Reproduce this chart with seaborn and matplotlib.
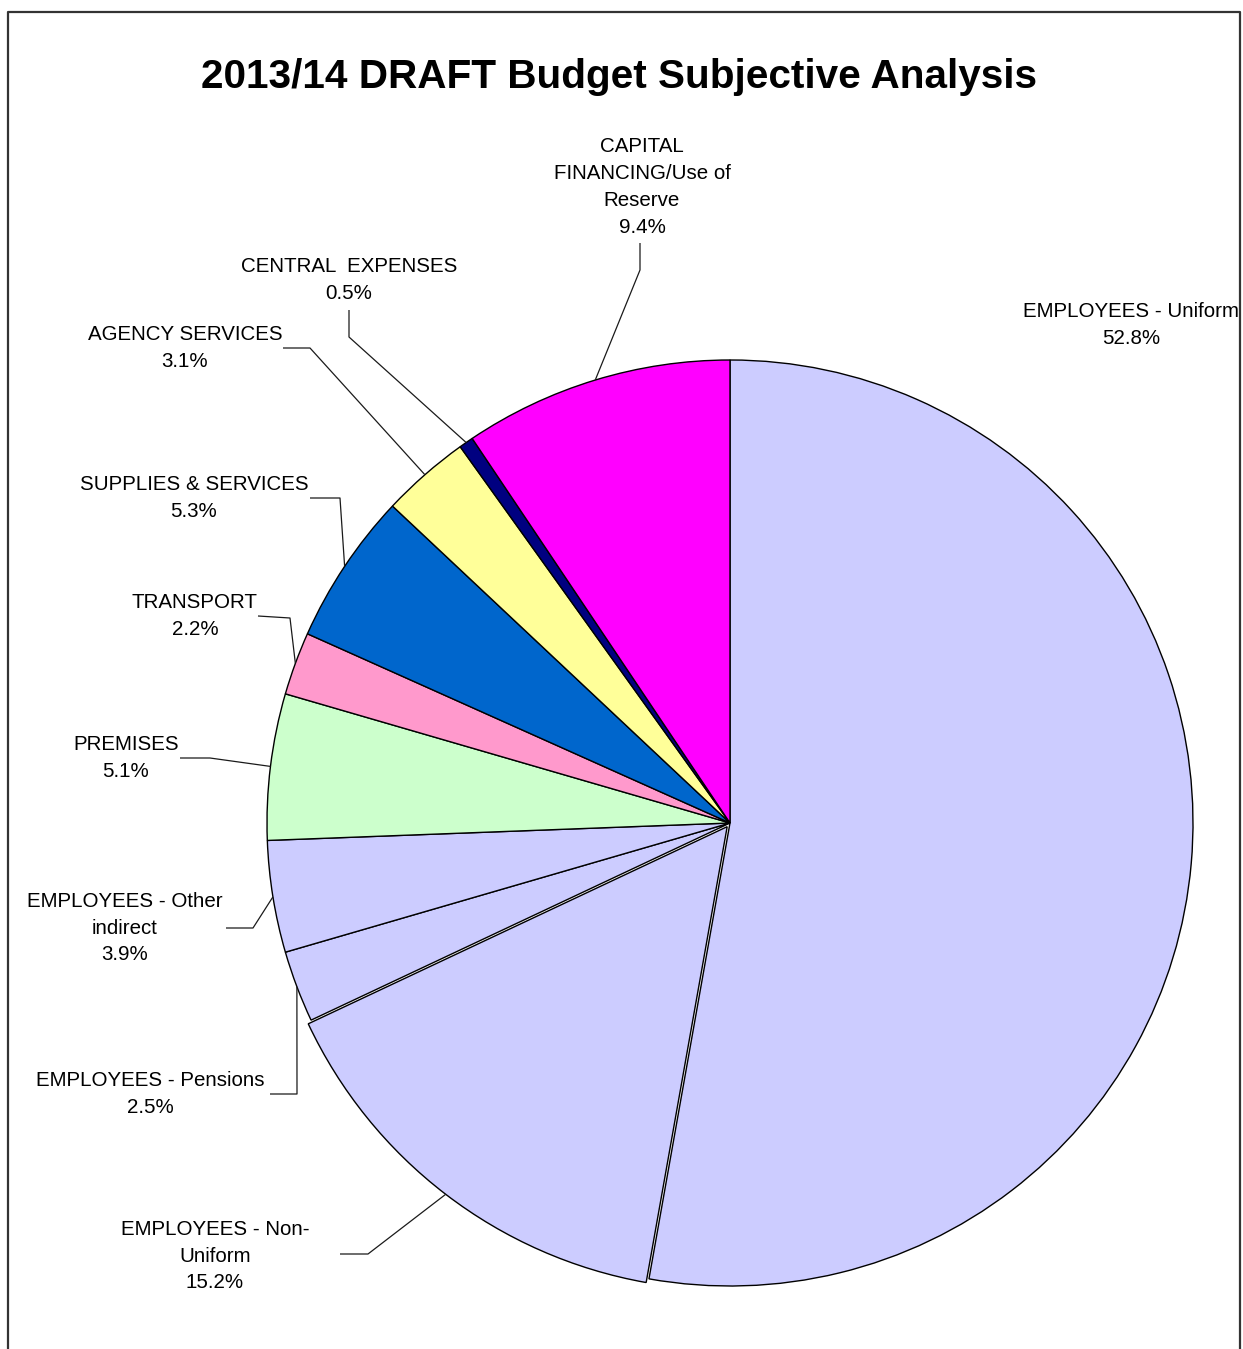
import numpy as np
import matplotlib
matplotlib.use("Agg")
import matplotlib.pyplot as plt
import seaborn as sns

# Budget categories, clockwise from 12 o'clock
categories = [
    "EMPLOYEES - Uniform",
    "EMPLOYEES - Non-\nUniform",
    "EMPLOYEES - Pensions",
    "EMPLOYEES - Other\nindirect",
    "PREMISES",
    "TRANSPORT",
    "SUPPLIES & SERVICES",
    "AGENCY SERVICES",
    "CENTRAL  EXPENSES",
    "CAPITAL\nFINANCING/Use of\nReserve",
]
shares = [52.8, 15.2, 2.5, 3.9, 5.1, 2.2, 5.3, 3.1, 0.5, 9.4]
colors = ["#CCCCFF", "#CCCCFF", "#CCCCFF", "#CCCCFF", "#CCFFCC",
          "#FF99CC", "#0066CC", "#FFFF99", "#000080", "#FF00FF"]
# fraction of the radius by which each wedge is pulled out
explode_frac = [0, 0.01, 0, 0, 0, 0, 0, 0, 0, 0]

sns.set_theme(style="white")
plt.rcParams["font.family"] = ["Liberation Sans", "DejaVu Sans"]

W, H = 1243, 1349
fig = plt.figure(figsize=(W / 100, H / 100), dpi=100)
ax = fig.add_axes([0, 0, 1, 1])

# layout in pixel units (y measured from the top of the image)
cx, cy, R = 730, 823, 463


def Y(y):
    return H - y


# matplotlib's explode offset is in data units, so scale by the radius
ax.pie(shares, colors=colors, explode=[e * R for e in explode_frac],
       startangle=90, counterclock=False, radius=R, center=(cx, Y(cy)),
       frame=True, wedgeprops=dict(edgecolor="black", linewidth=1.0))

ax.set_xlim(0, W)
ax.set_ylim(0, H)
ax.set_aspect("equal", adjustable="box")
ax.axis("off")

# mid-angle of each wedge, used for the leader-line anchors
cum = np.cumsum([0] + shares)
mid = 90 - (cum[:-1] + cum[1:]) / 2 / sum(shares) * 360

# label block centres and leader elbows (pixels from the top-left)
label_pos = [(1131, 325), (215, 1256), (150, 1094), (125, 928), (126, 758),
             (195, 616), (194, 498), (185, 348), (349, 280), (642, 187)]
elbows = [None,
          [(340, 1254), (368, 1254)],
          [(270, 1094), (297, 1094)],
          [(226, 928), (253, 928)],
          [(180, 758), (210, 758)],
          [(258, 616), (290, 618)],
          [(310, 498), (340, 498)],
          [(283, 348), (310, 348)],
          [(349, 310), (349, 337)],
          [(640, 243), (640, 270)]]

for name, val, (lx, ly), elb, ang, ex in zip(categories, shares, label_pos,
                                             elbows, mid, explode_frac):
    ax.text(lx, Y(ly), f"{name}\n{val:.1f}%", ha="center", va="center",
            fontsize=14.8, color="black", linespacing=1.52)
    if elb is None:
        continue
    r = R * (1 + ex)
    axp = cx + r * np.cos(np.radians(ang))
    ayp = cy - r * np.sin(np.radians(ang))
    xs = [p[0] for p in elb] + [axp]
    ys = [Y(p[1]) for p in elb] + [Y(ayp)]
    ax.plot(xs, ys, color="#1a1a1a", linewidth=0.9, solid_capstyle="butt")

ax.text(619, Y(77), "2013/14 DRAFT Budget Subjective Analysis",
        ha="center", va="center", fontsize=29.2, fontweight="bold",
        color="black")

# outer chart frame (open at the bottom edge of the image)
ax.plot([8.5, 8.5, 1240.5, 1240.5], [Y(1360), Y(11.5), Y(11.5), Y(1360)],
        color="#333333", linewidth=1.6, clip_on=False)

fig.savefig("out.png", dpi=100, facecolor="white")
